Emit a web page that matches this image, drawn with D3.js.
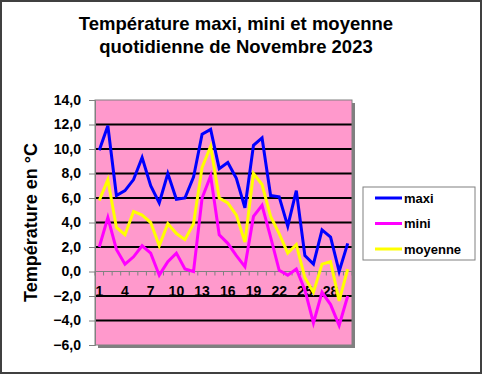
<!DOCTYPE html>
<html><head><meta charset="utf-8">
<script src="https://cdn.jsdelivr.net/npm/d3@7"></script>
<style>body{margin:0;background:#fff;}svg{display:block;font-family:"Liberation Sans",Arial,sans-serif;}</style>
</head><body>
<script>
const days = d3.range(1, 31);
const maxi = [9.9,11.9,6.2,6.6,7.5,9.3,7.0,5.6,8.0,5.9,6.0,7.7,11.2,11.6,8.4,8.9,7.6,5.2,10.3,10.9,6.2,6.1,3.7,6.6,1.3,0.6,3.4,2.8,0.0,2.3];
const mini = [2.0,4.4,1.8,0.6,1.2,2.1,1.5,-0.3,0.8,1.5,0.2,0.0,6.0,7.8,3.0,2.3,1.3,0.4,4.5,5.4,2.8,0.1,-0.3,0.2,-1.5,-4.2,-1.7,-2.7,-4.4,-2.0];
const moyenne = [5.8,7.5,3.6,3.0,4.9,4.6,4.0,2.1,3.9,3.1,2.6,3.9,8.5,10.2,6.0,5.6,4.6,2.4,8.0,7.1,4.5,3.1,1.5,2.2,-0.5,-1.7,0.6,0.8,-2.4,0.2];
const yTicks = [14,12,10,8,6,4,2,0,-2,-4,-6];
const xLabels = [1,4,7,10,13,16,19,22,25,28];
const seriesNames = ["maxi","mini","moyenne"];
const seriesColors = ["#0000FF","#FF00FF","#FFFF00"];
const titleLines = ["Température maxi, mini et moyenne","quotidienne de Novembre 2023"];
const yTitle = "Température en °C";

const W = 482, H = 374;
const svg = d3.select("body").append("svg").attr("width", W).attr("height", H);
svg.append("rect").attr("x",1).attr("y",1).attr("width",W-2).attr("height",H-2).attr("fill","#fff").attr("stroke","#404040").attr("stroke-width",2);

const L = 95, R = 352, T = 100, B = 345;
const x = d3.scalePoint().domain(days).range([L, R]).padding(0.5);
const y = d3.scaleLinear().domain([-6, 14]).range([B, T]);

// title
svg.append("text").attr("text-anchor","middle").attr("font-weight","bold").attr("font-size",18.5)
  .selectAll("tspan").data(titleLines).join("tspan").attr("x",236).attr("y",(d,i)=>30+i*23).text(d=>d);

// shadow + plot
svg.append("rect").attr("x",L+3).attr("y",T+3).attr("width",R-L).attr("height",B-T).attr("fill","#808080");
svg.append("rect").attr("x",L).attr("y",T).attr("width",R-L).attr("height",B-T).attr("fill","#FF99CC");

// gridlines
svg.append("g").selectAll("line").data(yTicks.filter(v=>v!==0 && v!==14 && v!==-6)).join("line")
  .attr("x1",L).attr("x2",R).attr("y1",d=>y(d)).attr("y2",d=>y(d)).attr("stroke","#000").attr("stroke-width",2);
svg.append("rect").attr("x",L).attr("y",T).attr("width",R-L).attr("height",B-T).attr("fill","none").attr("stroke","#808080").attr("stroke-width",1);

// y axis
const yAxis = svg.append("g").attr("transform",`translate(${L},0)`)
  .call(d3.axisLeft(y).tickValues(yTicks).tickSize(6).tickPadding(8).tickFormat(d=>d3.format(".1f")(d).replace(".",",")));
yAxis.select(".domain").attr("stroke","#808080");
yAxis.selectAll(".tick line").attr("stroke","#808080");
yAxis.selectAll("text").attr("font-size",14).attr("font-weight","bold").attr("fill","#000").attr("font-family","Liberation Sans, Arial, sans-serif");

// x axis at 0
const bw = x.step();
const bounds = d3.range(0, days.length+1).map(i => L + i*bw);
const xg = svg.append("g");
xg.append("line").attr("x1",L).attr("x2",R).attr("y1",y(0)).attr("y2",y(0)).attr("stroke","#808080").attr("stroke-width",1);
xg.selectAll("line.t").data(bounds).join("line").attr("class","t").attr("x1",d=>d).attr("x2",d=>d).attr("y1",y(0)).attr("y2",y(0)+4).attr("stroke","#808080");
xg.selectAll("text").data(xLabels).join("text").attr("x",d=>x(d)).attr("y",y(0)+24).attr("text-anchor","middle")
  .attr("font-size",14).attr("font-weight","bold").text(d=>d);

// y title
svg.append("text").attr("transform",`translate(37,${(T+B)/2}) rotate(-90)`).attr("text-anchor","middle")
  .attr("font-size",18).attr("font-weight","bold").text(yTitle);

// lines
const line = d3.line().x((d,i)=>x(days[i])).y(d=>y(d));
[maxi, mini, moyenne].forEach((s,k)=>{
  svg.append("path").datum(s).attr("d",line).attr("fill","none").attr("stroke",seriesColors[k]).attr("stroke-width",3).attr("stroke-linejoin","miter");
});

// legend
const lg = svg.append("g");
lg.append("rect").attr("x",363).attr("y",187).attr("width",112).attr("height",73).attr("fill","#fff").attr("stroke","#808080");
seriesNames.forEach((n,i)=>{
  const yy = 198 + i*25.5;
  lg.append("line").attr("x1",375).attr("x2",402).attr("y1",yy).attr("y2",yy).attr("stroke",seriesColors[i]).attr("stroke-width",3);
  lg.append("text").attr("x",404).attr("y",yy+4.5).attr("font-size",13).attr("font-weight","bold").text(n);
});
</script>
</body></html>
